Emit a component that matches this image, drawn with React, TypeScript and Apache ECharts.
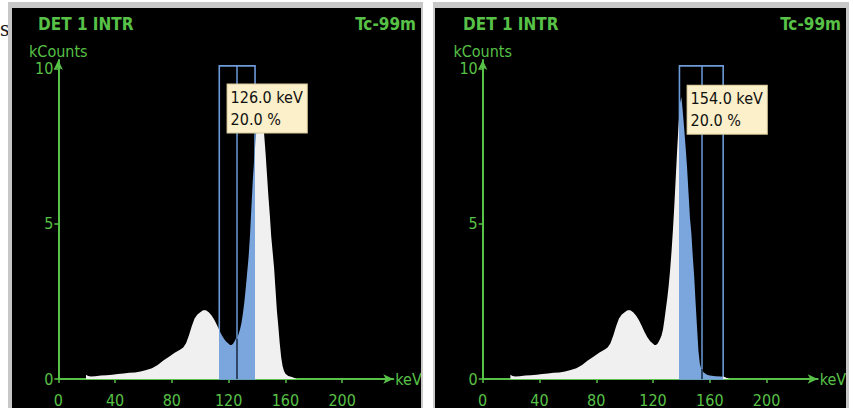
import React, { useEffect, useRef } from "react";
import * as echarts from "echarts";

// ---- data ----
const lowEnergy = [19.5, 21, 23, 26, 30, 34, 38, 42, 46, 50, 54, 58, 62, 66, 70, 74, 78, 82, 86, 88, 90, 92, 94, 96, 98, 100, 102, 104, 106, 108, 110, 112, 114, 116, 118, 120, 121, 122, 123, 124, 125];
const lowCounts = [0.14, 0.1, 0.08, 0.09, 0.11, 0.12, 0.14, 0.16, 0.18, 0.2, 0.21, 0.24, 0.29, 0.35, 0.45, 0.6, 0.72, 0.85, 0.95, 1.02, 1.15, 1.4, 1.7, 1.95, 2.08, 2.15, 2.22, 2.22, 2.15, 2.05, 1.9, 1.72, 1.52, 1.35, 1.22, 1.14, 1.1, 1.1, 1.13, 1.2, 1.3];

const peakEnergyLeft = [126, 127, 128, 129, 130, 131, 132, 133, 134, 135, 136, 137, 138, 139, 140, 141, 142, 143, 144, 145, 146, 147, 148, 149, 150, 151, 152, 153, 154, 155, 156, 157, 158, 159, 160, 162, 164, 166, 168];
const peakCountsLeft = [1.3, 1.45, 1.6, 1.8, 2.1, 2.45, 2.9, 3.4, 3.9, 4.6, 5.5, 6.4, 7.1, 7.7, 8.3, 8.8, 9.0, 8.8, 8.4, 7.9, 7.3, 6.6, 5.9, 5.3, 4.6, 4.1, 3.6, 2.9, 2.2, 1.7, 1.15, 0.7, 0.42, 0.26, 0.17, 0.1, 0.07, 0.04, 0];

const peakEnergyRight = [126, 127, 128, 129, 130, 131, 132, 133, 134, 135, 136, 137, 138, 139, 140, 141, 142, 143, 144, 145, 146, 147, 148, 149, 150, 151, 152, 153, 154, 155, 156, 158, 160, 164, 168, 170, 172, 174];
const peakCountsRight = [1.4, 1.6, 1.9, 2.25, 2.6, 3.0, 3.5, 4.1, 4.8, 5.6, 6.5, 7.4, 8.2, 8.9, 9.1, 8.6, 8.05, 7.45, 6.8, 6.0, 5.2, 4.7, 3.95, 3.3, 2.45, 1.65, 0.9, 0.48, 0.32, 0.24, 0.2, 0.14, 0.11, 0.09, 0.08, 0.07, 0.03, 0];

const windowCenters = [126, 154]; // keV
const windowPercents = [20, 20]; // %
const xTickValues = [0, 40, 80, 120, 160, 200];
const yTickValues = [0, 5, 10];
const panelTitle = "DET 1 INTR";
const isotopeName = "Tc-99m";
const xAxisName = "keV";
const yAxisName = "kCounts";

// ---- styles ----
const GREEN = "#58c147";
const FONT = "'DejaVu Sans Condensed', 'Liberation Sans', sans-serif";
const WHITE_FILL = "#f0f0f0";
const BLUE_FILL = "#7aa5dd";
const BLUE_LINE = "#6b9bd8";
const DARK_LINE = "#1d2a40";

const X_MAX = 236;
const Y_MAX = 10.29;
const WINDOW_TOP = 10.1;

const spectra = [
  lowEnergy.map((e, i) => [e, lowCounts[i]]).concat(peakEnergyLeft.map((e, i) => [e, peakCountsLeft[i]])),
  lowEnergy.map((e, i) => [e, lowCounts[i]]).concat(peakEnergyRight.map((e, i) => [e, peakCountsRight[i]])),
];

const gridLefts = [58.3, 482.7];
const boxAnchors = [
  [119.6, 9.48],
  [144.7, 9.44],
];

function valueAt(data: number[][], x: number) {
  const p = data.find((d) => d[0] === x);
  return p ? p[1] : 0;
}

export default function App() {
  const ref = useRef<HTMLDivElement>(null);
  useEffect(() => {
    if (!ref.current) return;
    const chart = echarts.init(ref.current, null, { renderer: "svg" });

    const grids = gridLefts.map((l) => ({ left: l, top: 60, width: 335, height: 319.3 }));
    const xAxes = gridLefts.map((_, i) => ({
      type: "value",
      gridIndex: i,
      min: 0,
      max: X_MAX,
      name: xAxisName,
      nameLocation: "end",
      nameGap: 2,
      nameTextStyle: { color: GREEN, fontSize: 16, fontFamily: FONT, align: "left", verticalAlign: "middle" },
      axisLine: {
        show: true,
        onZero: false,
        symbol: ["none", "arrow"],
        symbolSize: [7, 10],
        lineStyle: { color: GREEN, width: 2 },
      },
      axisTick: { show: true, customValues: xTickValues, length: 4, lineStyle: { color: GREEN, width: 1.5 } },
      axisLabel: { customValues: xTickValues, color: GREEN, fontSize: 16, fontFamily: FONT, margin: 13 },
      splitLine: { show: false },
    }));
    const yAxes = gridLefts.map((_, i) => ({
      type: "value",
      gridIndex: i,
      min: 0,
      max: Y_MAX,
      name: yAxisName,
      nameLocation: "end",
      nameGap: 1,
      nameTextStyle: { color: GREEN, fontSize: 16, fontFamily: FONT },
      axisLine: {
        show: true,
        onZero: false,
        symbol: ["none", "arrow"],
        symbolSize: [7, 10],
        lineStyle: { color: GREEN, width: 2 },
      },
      axisTick: { show: true, customValues: yTickValues, length: 4, lineStyle: { color: GREEN, width: 1.5 } },
      axisLabel: { customValues: yTickValues, color: GREEN, fontSize: 16, fontFamily: FONT, margin: 5 },
      splitLine: { show: false },
    }));

    const series = spectra.map((data, i) => {
      const c = windowCenters[i];
      const half = (c * windowPercents[i]) / 200;
      const lo = c - half;
      const hi = c + half;
      return {
        type: "line",
        xAxisIndex: i,
        yAxisIndex: i,
        data,
        showSymbol: false,
        silent: true,
        lineStyle: { width: 0 },
        areaStyle: { opacity: 1 },
        markArea: {
          silent: true,
          z: 3,
          itemStyle: { color: "rgba(0,0,0,0)", borderColor: BLUE_LINE, borderWidth: 1.6 },
          data: [[{ coord: [lo, 0] }, { coord: [hi, WINDOW_TOP] }]],
        },
        markLine: {
          silent: true,
          z: 4,
          symbol: ["none", "none"],
          label: { show: false },
          data: [
            [
              { coord: [c, 0], lineStyle: { color: BLUE_LINE, width: 1.5, type: "solid" } },
              { coord: [c, WINDOW_TOP] },
            ],
            [
              { coord: [c, 0], lineStyle: { color: DARK_LINE, width: 1.5, type: "solid" } },
              { coord: [c, valueAt(data, c)] },
            ],
          ],
        },
        markPoint: {
          silent: true,
          z: 10,
          data: [
            {
              coord: boxAnchors[i],
              symbol: "rect",
              symbolSize: 1,
              itemStyle: { color: "rgba(0,0,0,0)" },
              label: {
                show: true,
                position: [0, 0],
                align: "left",
                verticalAlign: "top",
                formatter: `${c.toFixed(1)} keV\n${windowPercents[i].toFixed(1)} %`,
                color: "#111",
                fontSize: 16,
                fontFamily: FONT,
                lineHeight: 22,
                backgroundColor: "#fbf0c9",
                borderColor: "#d9c99a",
                borderWidth: 1,
                padding: [2, 4, 2, 3],
              },
            },
          ],
        },
      };
    });

    const visualMaps = spectra.map((_, i) => {
      const c = windowCenters[i];
      const half = (c * windowPercents[i]) / 200;
      return {
        type: "piecewise",
        show: false,
        seriesIndex: i,
        dimension: 0,
        pieces: [{ gte: c - half, lte: c + half, color: BLUE_FILL }],
        outOfRange: { color: WHITE_FILL },
      };
    });

    const titles = [
      { text: panelTitle, left: 38, top: 15 },
      { text: isotopeName, right: 437, top: 15 },
      { text: panelTitle, left: 463, top: 15 },
      { text: isotopeName, right: 12, top: 15 },
    ].map((t) => ({
      ...t,
      padding: 0,
      textStyle: { color: GREEN, fontSize: 17, fontWeight: "bold", fontFamily: FONT },
    }));

    const graphic = [
      { type: "text", x: 0, y: 28, z: -30, style: { text: "s", font: "24px 'Liberation Serif'", fill: "#222", verticalAlign: "middle" } },
      { type: "rect", z: -20, shape: { x: 8, y: 2, width: 415, height: 406 }, style: { fill: "#c8c8c8" } },
      { type: "rect", z: -19, shape: { x: 12, y: 8, width: 409, height: 400 }, style: { fill: "#000" } },
      { type: "rect", z: -20, shape: { x: 433, y: 2, width: 416, height: 406 }, style: { fill: "#c8c8c8" } },
      { type: "rect", z: -19, shape: { x: 435, y: 8, width: 411, height: 400 }, style: { fill: "#000" } },
      { type: "rect", z: 100, shape: { x: 421, y: 2, width: 2, height: 406 }, style: { fill: "#c8c8c8" } },
      { type: "rect", z: 100, shape: { x: 423, y: 0, width: 10, height: 408 }, style: { fill: "#fff" } },
      { type: "rect", z: 100, shape: { x: 846, y: 2, width: 3, height: 406 }, style: { fill: "#c8c8c8" } },
      { type: "rect", z: 100, shape: { x: 849, y: 0, width: 4, height: 408 }, style: { fill: "#fff" } },
    ];

    chart.setOption({
      animation: false,
      backgroundColor: "#fff",
      title: titles,
      grid: grids,
      xAxis: xAxes,
      yAxis: yAxes,
      visualMap: visualMaps,
      series,
      graphic,
    });
    return () => chart.dispose();
  }, []);

  return (
    <div
      ref={ref}
      style={{ position: "absolute", left: 0, top: 0, width: 853, height: 408, background: "#fff" }}
    />
  );
}
